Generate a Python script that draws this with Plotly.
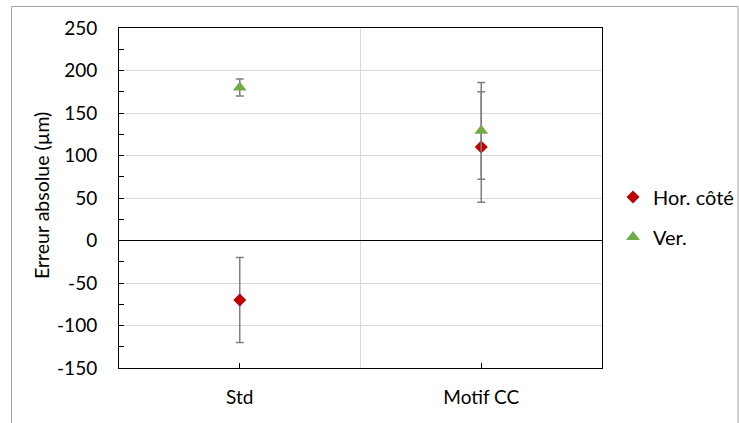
import plotly.graph_objects as go

categories = ["Std", "Motif CC"]
hor_values = [-70, 110]
hor_errors = [50, 65]
ver_values = [180, 129]
ver_errors = [10, 57]
y_ticks = [-150, -100, -50, 0, 50, 100, 150, 200, 250]
y_tick_text = ["-150", "-100", "-50", "0", "50", "100", "150", "200", "250"]

FONT = "Lato, 'Open Sans', sans-serif"

W, H = 739, 423
L, T = 119, 28
PW, PH = 483, 340
R = W - L - PW
B = H - T - PH

fig = go.Figure()
fig.add_trace(go.Scatter(
    x=categories, y=hor_values, mode="markers", name="Hor. côté",
    marker=dict(symbol="diamond", size=10, color="#C00000"),
    error_y=dict(type="data", array=hor_errors, visible=True,
                 color="#7f7f7f", thickness=1.5, width=4),
    legend="legend",
))
fig.add_trace(go.Scatter(
    x=categories, y=ver_values, mode="markers", name="Ver.",
    marker=dict(symbol="triangle-up", size=12, color="#70AD47"),
    error_y=dict(type="data", array=ver_errors, visible=True,
                 color="#7f7f7f", thickness=1.5, width=4),
    legend="legend2",
))

def px_x(px):
    return (px - L) / PW

def px_y(py):
    return (T + PH - py) / PH

# vertical category separator gridline
fig.add_shape(type="line", xref="x", yref="paper", x0=0.5, x1=0.5, y0=0, y1=1,
              line=dict(color="#d9d9d9", width=1), layer="below")
# outer chart border
fig.add_shape(type="rect", xref="paper", yref="paper",
              x0=px_x(11.5), x1=px_x(738), y0=px_y(440), y1=px_y(6.5),
              line=dict(color="#a6a6a6", width=1), layer="below")

# y-axis title
fig.add_annotation(text="Erreur absolue (µm)", xref="paper", yref="paper",
                   x=px_x(41), y=px_y(196), xanchor="center", yanchor="middle",
                   textangle=-90, showarrow=False,
                   font=dict(family=FONT, size=19.5, color="black"))

fig.update_layout(
    width=W, height=H,
    margin=dict(l=L, r=R, t=T, b=B, autoexpand=False),
    paper_bgcolor="white", plot_bgcolor="white",
    font=dict(family=FONT, size=19, color="black"),
    showlegend=True,
    legend=dict(x=px_x(613), y=px_y(197), xanchor="left", yanchor="middle",
                bgcolor="rgba(0,0,0,0)", font=dict(size=20)),
    legend2=dict(x=px_x(613), y=px_y(237), xanchor="left", yanchor="middle",
                 bgcolor="rgba(0,0,0,0)", font=dict(size=20)),
    xaxis=dict(
        type="category", range=[-0.5, 1.5],
        showgrid=False, showline=True, linecolor="black", linewidth=1, mirror=True,
        ticks="inside", ticklen=5, tickcolor="black", zeroline=False,
        ticklabelstandoff=12,
    ),
    yaxis=dict(
        range=[-150, 250], tickvals=y_ticks, ticktext=y_tick_text,
        showgrid=True, gridcolor="#d9d9d9", gridwidth=1,
        showline=True, linecolor="black", linewidth=1, mirror=True,
        ticks="inside", ticklen=5, tickcolor="black",
        minor=dict(dtick=25, ticks="inside", ticklen=5, tickcolor="black", showgrid=False),
        zeroline=True, zerolinecolor="black", zerolinewidth=1,
        ticklabelstandoff=17,
    ),
)

fig.write_html("out.html", config={"displayModeBar": False},
               post_script="document.body.style.margin='0px';")
